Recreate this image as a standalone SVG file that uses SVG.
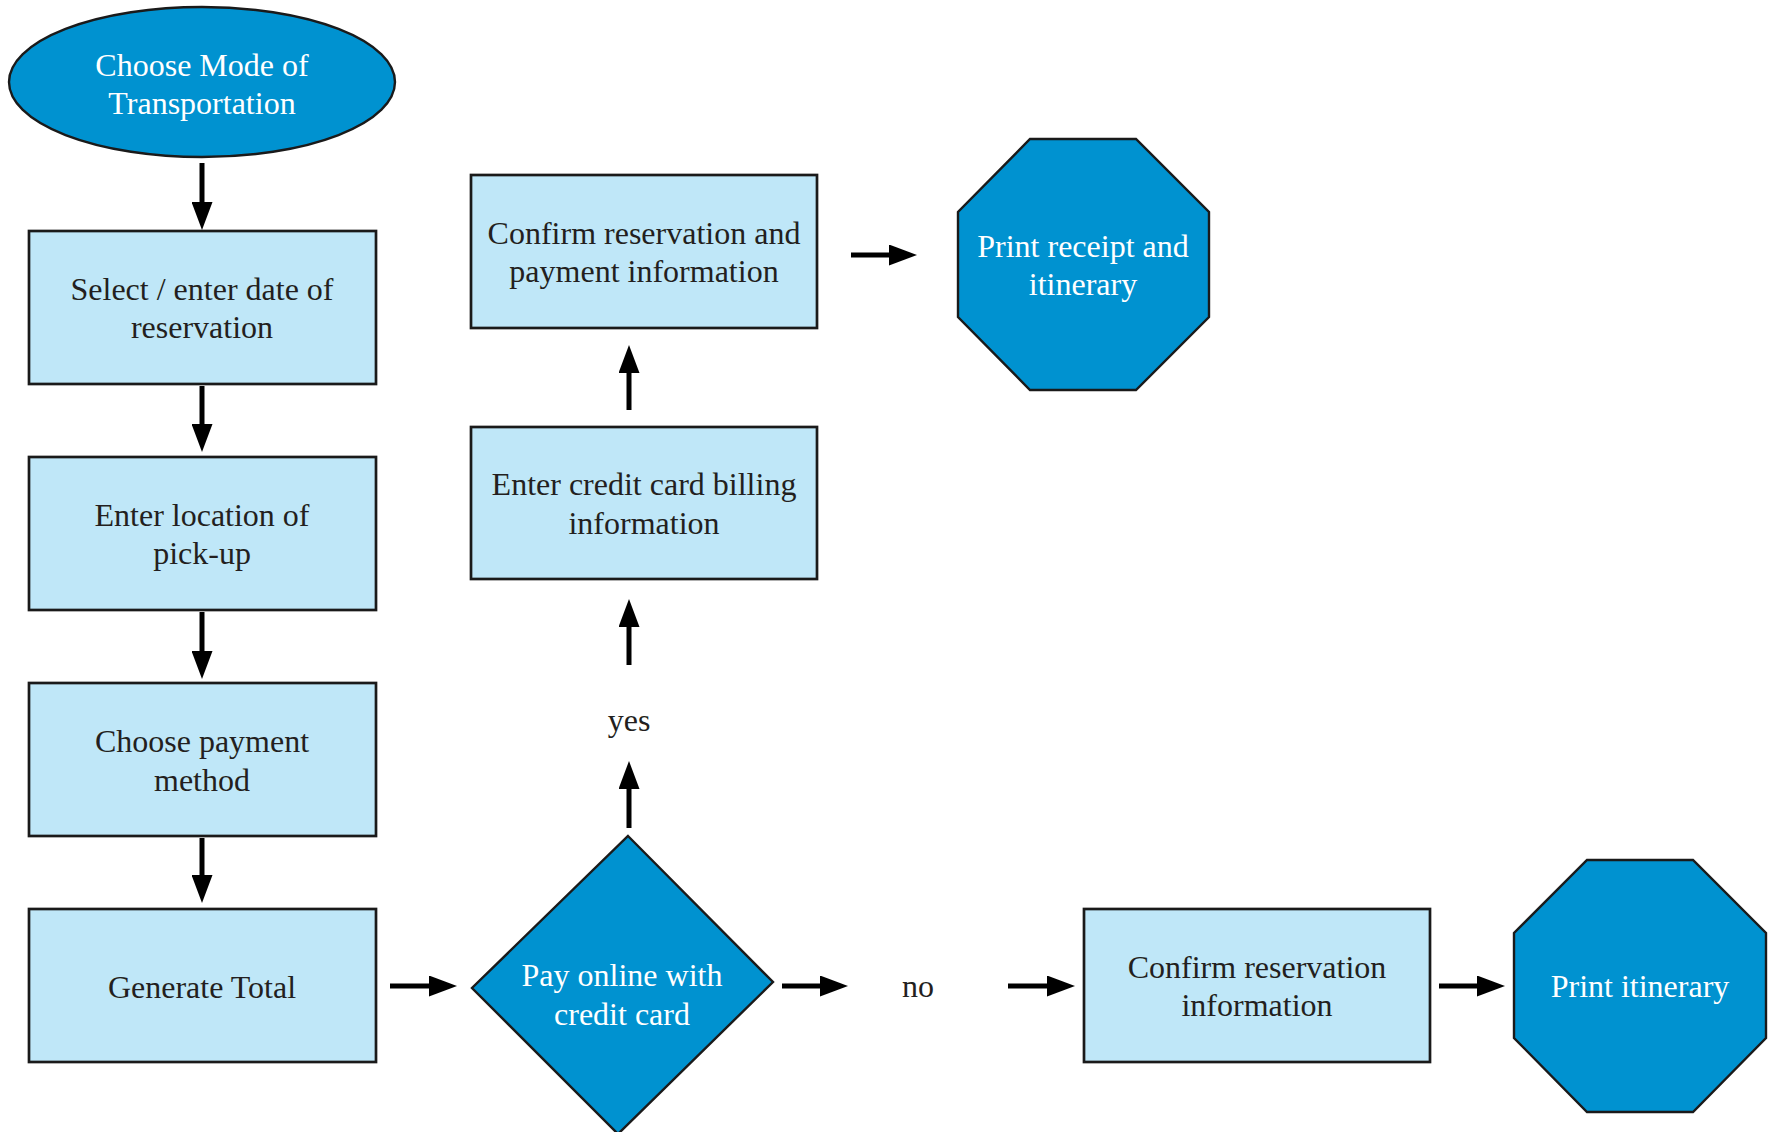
<svg xmlns="http://www.w3.org/2000/svg" width="1769" height="1132" viewBox="0 0 1769 1132">
<style>
.box{fill:#bfe7f8;stroke:#1a1a1a;stroke-width:2.7}
.dark{fill:#0092d0;stroke:#1a1a1a;stroke-width:2.4}
.t{font-family:"Liberation Serif","Times New Roman",serif;font-size:32px;text-anchor:middle;fill:#231f20}
.w{fill:#ffffff}
.arr{stroke:#000;stroke-width:5;fill:none;marker-end:url(#ah)}
</style>
<defs>
<marker id="ah" markerUnits="userSpaceOnUse" markerWidth="28" markerHeight="21" refX="1" refY="10.5" orient="auto">
<path d="M0,0 L28,10.5 L0,21 z" fill="#000"/>
</marker>
</defs>
<rect width="1769" height="1132" fill="#ffffff"/>
<g id="n-start">
<ellipse class="dark" cx="202" cy="82" rx="193" ry="75"/>
<text class="t w" x="202" y="76">Choose Mode of</text>
<text class="t w" x="202" y="114">Transportation</text>
</g>
<g id="n-date">
<rect class="box" x="29" y="231" width="347" height="153"/>
<text class="t" x="202" y="300">Select / enter date of</text>
<text class="t" x="202" y="338">reservation</text>
</g>
<g id="n-location">
<rect class="box" x="29" y="457" width="347" height="153"/>
<text class="t" x="202" y="526">Enter location of</text>
<text class="t" x="202" y="564">pick-up</text>
</g>
<g id="n-payment">
<rect class="box" x="29" y="683" width="347" height="153"/>
<text class="t" x="202" y="752">Choose payment</text>
<text class="t" x="202" y="791">method</text>
</g>
<g id="n-total">
<rect class="box" x="29" y="909" width="347" height="153"/>
<text class="t" x="202" y="998">Generate Total</text>
</g>
<g id="n-decision">
<polygon class="dark" points="628,836 773,982 618,1134 472,988"/>
<text class="t w" x="622" y="986">Pay online with</text>
<text class="t w" x="622" y="1025">credit card</text>
</g>
<g id="n-billing">
<rect class="box" x="471" y="427" width="346" height="152"/>
<text class="t" x="644" y="495">Enter credit card billing</text>
<text class="t" x="644" y="534">information</text>
</g>
<g id="n-confirm-pay">
<rect class="box" x="471" y="175" width="346" height="153"/>
<text class="t" x="644" y="244">Confirm reservation and</text>
<text class="t" x="644" y="282">payment information</text>
</g>
<g id="n-receipt">
<polygon class="dark" points="1030,139 1136,139 1209,212 1209,317 1136,390 1030,390 958,317 958,212"/>
<text class="t w" x="1083" y="257">Print receipt and</text>
<text class="t w" x="1083" y="295">itinerary</text>
</g>
<g id="n-confirm">
<rect class="box" x="1084" y="909" width="346" height="153"/>
<text class="t" x="1257" y="978">Confirm reservation</text>
<text class="t" x="1257" y="1016">information</text>
</g>
<g id="n-itinerary">
<polygon class="dark" points="1587,860 1693,860 1766,933 1766,1038 1693,1112 1587,1112 1514,1038 1514,933"/>
<text class="t w" x="1640" y="997">Print itinerary</text>
</g>
<g id="connectors">
<line class="arr" x1="202" y1="163" x2="202" y2="203"/>
<line class="arr" x1="202" y1="386" x2="202" y2="425"/>
<line class="arr" x1="202" y1="612" x2="202" y2="652"/>
<line class="arr" x1="202" y1="838" x2="202" y2="876"/>
<line class="arr" x1="390" y1="986" x2="430" y2="986"/>
<line class="arr" x1="782" y1="986" x2="821" y2="986"/>
<line class="arr" x1="1008" y1="986" x2="1048" y2="986"/>
<line class="arr" x1="1439" y1="986" x2="1478" y2="986"/>
<line class="arr" x1="629" y1="828" x2="629" y2="788"/>
<line class="arr" x1="629" y1="665" x2="629" y2="626"/>
<line class="arr" x1="629" y1="410" x2="629" y2="372"/>
<line class="arr" x1="851" y1="255" x2="890" y2="255"/>
<text class="t" x="629" y="731">yes</text>
<text class="t" x="918" y="997">no</text>
</g>
</svg>
